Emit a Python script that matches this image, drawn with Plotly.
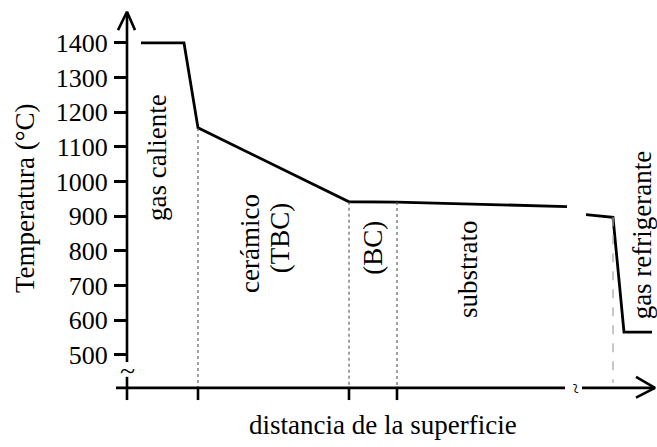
import plotly.graph_objects as go

# Temperature profile through the wall (distance in arbitrary units, T in °C)
dist_hot = [14, 57, 71, 222, 270, 440]
temp_hot = [1400, 1400, 1155, 942, 941, 928]
dist_cold = [459, 486, 497, 525]
temp_cold = [905, 897, 566, 566]

# Layer boundaries: gas/TBC, TBC/BC, BC/substrate
boundaries = [71, 222, 270]
boundary_temps = [1155, 942, 941]
# Substrate / coolant interface
wall_x = 486
wall_temp = 897

y_ticks = [500, 600, 700, 800, 900, 1000, 1100, 1200, 1300, 1400]
x_ticks = [0, 71, 222, 270]

region_labels = ["gas caliente", "cerámico", "(TBC)", "(BC)", "substrato", "gas refrigerante"]
region_x = [30, 123, 153, 246, 341, 515]
region_y = [1068, 820, 837, 809, 748, 845]

X_RANGE = [-22, 530]
Y_RANGE = [364.4, 1495]
AXIS_T = 405        # level where the distance axis sits
AXIS_BOTTOM = 370   # lower end of the tick marks
FONT = "Liberation Serif, Times New Roman, serif"
LW = 2.6

fig = go.Figure()


def seg(xs, ys, width=LW, color="black", dash=None):
    fig.add_trace(go.Scatter(
        x=xs, y=ys, mode="lines",
        line=dict(color=color, width=width, dash=dash),
        hoverinfo="skip", showlegend=False,
    ))


# temperature profile
seg(dist_hot, temp_hot, width=2.8)
seg(dist_cold, temp_cold, width=2.8)

# dotted layer boundaries
for bx, bt in zip(boundaries, boundary_temps):
    seg([bx, bx], [bt, AXIS_T], width=1.1, color="#555555", dash="dot")
# dashed wall/coolant line
seg([wall_x, wall_x], [wall_temp, 419], width=1.3, color="#aaaaaa", dash="dash")

# y axis line with a break near the bottom
seg([0, 0], [1489, 480])
seg([0, 0], [437, AXIS_BOTTOM])
seg([-9, 0, 8], [1437, 1490, 1437])

# distance axis with a break before the arrow
seg([-11, 438], [AXIS_T, AXIS_T])
seg([455, 528], [AXIS_T, AXIS_T])
seg([509, 528, 509], [437, AXIS_T, 377])
for tx in x_ticks[1:]:
    seg([tx, tx], [AXIS_T, AXIS_BOTTOM])

# break marks
fig.add_annotation(x=0, y=455, text="~", showarrow=False,
                   xanchor="center", yanchor="middle",
                   font=dict(family=FONT, size=28, color="black"))
fig.add_annotation(x=449, y=AXIS_T, text="~", showarrow=False, textangle=80,
                   xanchor="center", yanchor="middle",
                   font=dict(family=FONT, size=20, color="black"))

# region labels
for txt, rx, ry in zip(region_labels, region_x, region_y):
    fig.add_annotation(x=rx, y=ry, text=txt, showarrow=False, textangle=-90,
                       xanchor="center", yanchor="middle",
                       font=dict(family=FONT, size=27, color="black"))

# axis titles
fig.add_annotation(xref="paper", yref="paper", x=(25 - 105) / 552, y=(402 - 198) / 392,
                   xanchor="center", yanchor="middle",
                   text="Temperatura (°C)", textangle=-90, showarrow=False,
                   font=dict(family=FONT, size=27, color="black"))
fig.add_annotation(xref="paper", yref="paper", x=(383 - 105) / 552, y=(402 - 425) / 392,
                   xanchor="center", yanchor="middle",
                   text="distancia de la superficie", showarrow=False,
                   font=dict(family=FONT, size=27, color="black"))

fig.update_layout(
    width=657, height=447,
    margin=dict(l=105, r=0, t=10, b=45),
    paper_bgcolor="white", plot_bgcolor="white",
    xaxis=dict(range=X_RANGE, visible=False, fixedrange=True),
    yaxis=dict(
        range=Y_RANGE, anchor="free", position=(127 - 105) / 552,
        showline=False, showgrid=False, zeroline=False,
        tickmode="array", tickvals=y_ticks,
        ticks="outside", ticklen=13, tickwidth=2.5, tickcolor="black",
        ticklabelstandoff=1,
        tickfont=dict(family=FONT, size=26, color="black"),
        automargin=False, fixedrange=True,
    ),
)

fig.write_html("out.html")
